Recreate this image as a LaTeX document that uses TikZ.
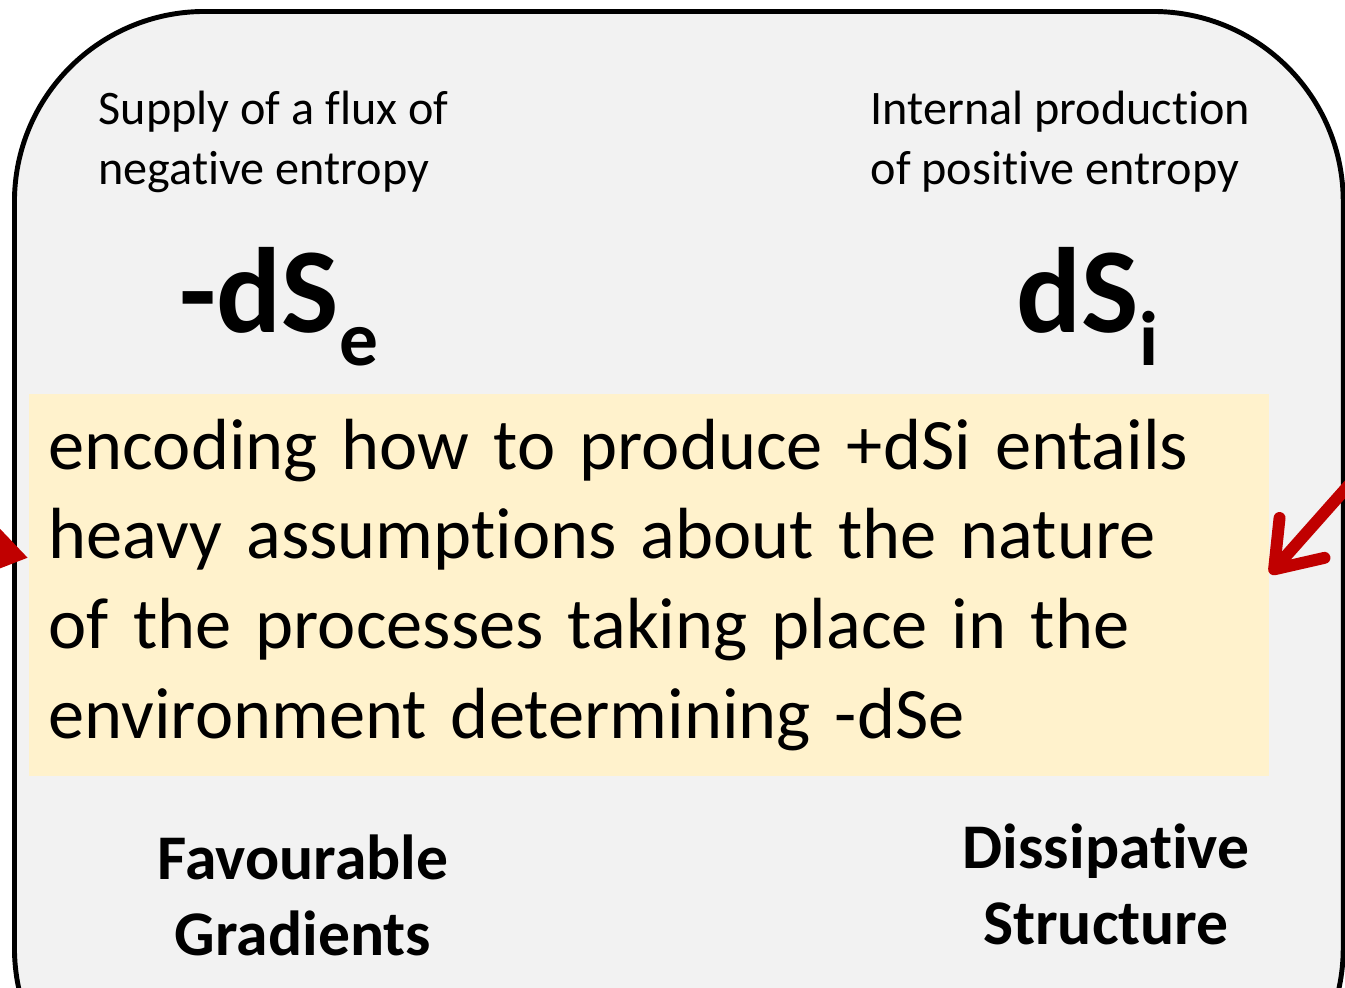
\documentclass[tikz,border=0pt]{standalone}
\usepackage{fontspec}
\setmainfont{Carlito}[Ligatures=NoCommon]
\usepackage{tikz}
\usetikzlibrary{arrows.meta,positioning}
\definecolor{entropyGray}{HTML}{F2F2F2}
\definecolor{entropyCream}{HTML}{FFF2CC}
\definecolor{entropyRed}{HTML}{C00000}
\tikzset{
  % outer rounded frame
  panel/.style={
    rounded corners=1.9cm,
    fill=entropyGray,
    draw=black,
    line width=1.4pt,
    inner sep=0pt
  },
  notebox/.style={
    fill=entropyCream,
    draw=none,
    inner xsep=0.2cm,
    inner ysep=0pt,
    align=left,
    font=\fontsize{20.6}{25.5}\selectfont
  },
  caption/.style={
    inner sep=0pt,
    align=left,
    font=\fontsize{13.7}{16.8}\selectfont
  },
  symbol/.style={
    inner sep=0pt,
    font=\fontsize{34.5}{38}\selectfont\bfseries
  },
  boldlabel/.style={
    inner sep=0pt,
    align=center,
    font=\fontsize{18.1}{21.6}\selectfont\bfseries
  },
  redarrow/.style={
    line width=3.4pt,
    draw=entropyRed,
    fill=entropyRed
  }
}
\newcommand{\entsub}[1]{\raisebox{-0.33cm}{\fontsize{22}{25}\selectfont #1}}

\begin{document}
\begin{tikzpicture}[x=0.01cm,y=-0.01cm]
\useasboundingbox (0,0) rectangle (1345,987);
\clip (0,0) rectangle (1345,987);

\node[panel, anchor=north west, minimum width=13.28cm, minimum height=11.26cm] (frame) at (12,9) {};

% entropy terms
\node[caption, anchor=base west] (supply) at (98,184)
{Supply of a flux of\\negative entropy};
\node[caption, anchor=base west] (internal) at (870,184)
{Internal production\\of positive entropy};

\node[symbol, anchor=base west] (dse) at (179,332) {-dS\entsub{e}};
\node[symbol, anchor=base west] (dsi) at (1016,332) {dS\entsub{i}};

\node[notebox, anchor=north west, minimum width=12.4cm, minimum height=3.82cm, text width=12.0cm] (note) at (28,393)
{encoding how to produce +dSi entails\\
heavy assumptions about the nature\\
of the processes taking place in the\\
environment determining -dSe};

\node[boldlabel, anchor=base] (gradients) at (303,955) {Favourable\\Gradients};
\node[boldlabel, anchor=base] (dissipative) at (1106,944) {Dissipative\\Structure};

% arrows entering from outside the frame
\coordinate (leftsrc) at (-110,527);
\coordinate (rightsrc) at (1420,405);
\draw[redarrow, -{Triangle[length=0.4cm,width=0.5cm]}] (leftsrc) -- ([yshift=0.27cm]note.west);
\draw[redarrow, line cap=round, -{Straight Barb[length=0.42cm,width=0.6cm,round]}] (rightsrc) -- ([yshift=0.11cm]note.east);

\end{tikzpicture}
\end{document}
